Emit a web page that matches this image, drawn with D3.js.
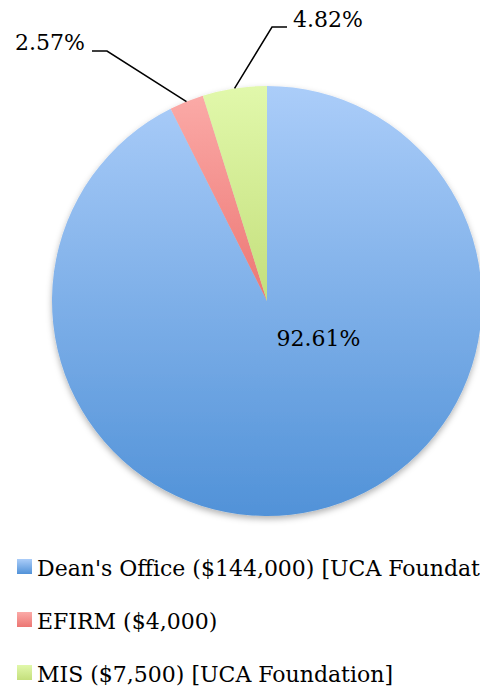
<!DOCTYPE html>
<html lang="en">
<head>
  <meta charset="UTF-8">
  <title>Funding pie</title>
  <script src="https://d3js.org/d3.v7.min.js"></script>
  <style>
    body { margin: 0; background: #fff; }
    svg { display: block; }
    text { font-family: "DejaVu Serif", serif; }
  </style>
</head>
<body>
  <svg width="480" height="689"></svg>
  <script>
    const categories = ["Dean's Office ($144,000) [UCA Foundation]", "EFIRM ($4,000)", "MIS ($7,500) [UCA Foundation]"];
    const amounts = [144000, 4000, 7500];
    const pctLabels = ["92.61%", "2.57%", "4.82%"];
    const colors = [["#abcdf9", "#5192d8"], ["#fbaaa7", "#ec7673"], ["#e1f8ab", "#c4df7c"]];

    const svg = d3.select("svg");
    const cx = 267, cy = 301, r = 215;
    const fs = 22;

    const defs = svg.append("defs");
    colors.forEach((c, i) => {
      const gr = defs.append("linearGradient").attr("id", "g" + i)
        .attr("x1", 0).attr("y1", 0).attr("x2", 0).attr("y2", 1);
      gr.append("stop").attr("offset", "0%").attr("stop-color", c[0]);
      gr.append("stop").attr("offset", "100%").attr("stop-color", c[1]);
    });
    const sh = defs.append("filter").attr("id", "shadow")
      .attr("x", "-10%").attr("y", "-10%").attr("width", "120%").attr("height", "125%");
    sh.append("feDropShadow").attr("dx", 0).attr("dy", 3).attr("stdDeviation", 3)
      .attr("flood-color", "#000").attr("flood-opacity", 0.3);

    const pie = d3.pie().sort(null).value(d => d)(amounts);
    const arc = d3.arc().innerRadius(0).outerRadius(r);

    const g = svg.append("g").attr("transform", `translate(${cx},${cy})`);
    g.append("g").attr("filter", "url(#shadow)")
      .selectAll("path").data(pie).enter().append("path")
      .attr("d", arc)
      .attr("fill", (d, i) => `url(#g${i})`);

    // big slice label inside
    g.append("text")
      .attr("x", 51.5).attr("y", 45)
      .attr("text-anchor", "middle")
      .attr("font-size", fs)
      .attr("fill", "#000")
      .text(pctLabels[0]);

    // outside labels with leader lines
    const outer = [
      null,
      { elbow: [-160, -250], end: [-175, -250], anchor: "end", ty: -251, tx: -182 },
      { elbow: [5, -274], end: [20, -274], anchor: "start", ty: -274, tx: 26 }
    ];
    pie.forEach((d, i) => {
      if (!outer[i]) return;
      const o = outer[i];
      const a = (d.startAngle + d.endAngle) / 2;
      const p = [r * Math.sin(a), -r * Math.cos(a)];
      g.append("polyline")
        .attr("points", [p, o.elbow, o.end].map(q => q.join(",")).join(" "))
        .attr("fill", "none").attr("stroke", "#000").attr("stroke-width", 1.5);
      g.append("text")
        .attr("x", o.tx).attr("y", o.ty)
        .attr("text-anchor", o.anchor)
        .attr("font-size", fs)
        .text(pctLabels[i]);
    });

    // legend
    const leg = svg.append("g").attr("transform", "translate(17,559)");
    const rows = leg.selectAll("g").data(categories).enter().append("g")
      .attr("transform", (d, i) => `translate(0,${i * 53})`);
    rows.append("rect").attr("width", 15).attr("height", 15)
      .attr("fill", (d, i) => `url(#g${i})`);
    rows.append("text").attr("x", 20).attr("y", 17)
      .attr("font-size", fs).attr("fill", "#000")
      .text(d => d);
  </script>
</body>
</html>
